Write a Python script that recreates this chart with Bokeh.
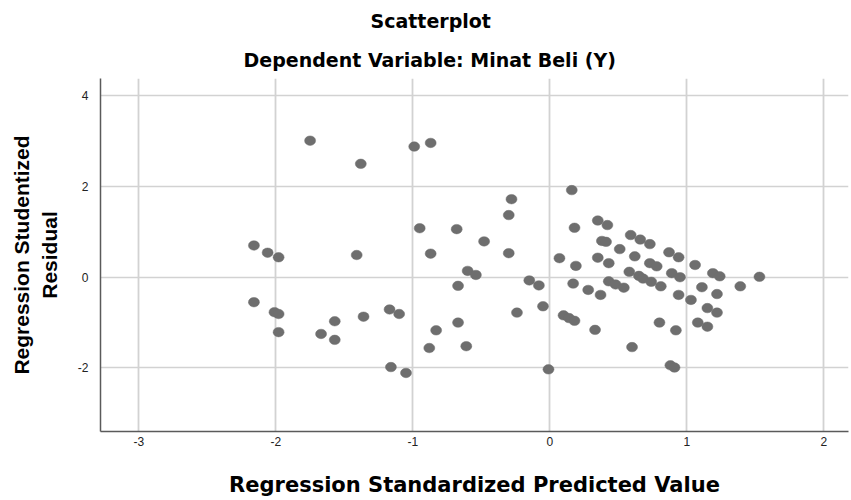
from bokeh.plotting import figure
from bokeh.models import Range1d, FixedTicker, ColumnDataSource, Title
from bokeh.embed import file_html
from bokeh.resources import INLINE

# Regression Standardized Predicted Value
pred = [-1.75, -1.38, -0.99, -0.87, -0.95, -0.68, -2.16, -2.06, -1.98, -1.41,
        -0.87, -0.60, -0.54, -0.67, -0.48, -0.28, -0.30, -0.30, -2.16, -2.01,
        -1.98, -1.98, -1.67, -1.57, -1.57, -1.36, -1.17, -1.10, -1.16, -1.05,
        -0.88, -0.83, -0.67, -0.61, -0.15, -0.08, -0.05, -0.24, -0.01,
        0.16, 0.18, 0.35, 0.42, 0.38, 0.41, 0.51, 0.59, 0.66, 0.73,
        0.62, 0.07, 0.19, 0.35, 0.43, 0.58, 0.65, 0.73, 0.78, 0.87,
        0.94, 1.06, 0.89, 0.95, 1.19, 1.24, 1.53, 0.68, 0.74, 0.81,
        1.11, 1.39, 1.22, 0.94, 1.03, 0.17, 0.28, 0.37, 0.43, 0.48,
        0.54, 1.15, 1.22, 1.08, 1.15, 0.10, 0.14, 0.18, 0.33, 0.80,
        0.92, 0.60, 0.88, 0.91]

# Regression Studentized Residual
resid = [3.01, 2.50, 2.88, 2.96, 1.08, 1.06, 0.70, 0.54, 0.44, 0.49,
         0.52, 0.14, 0.05, -0.19, 0.79, 1.72, 1.37, 0.53, -0.55, -0.77,
         -0.81, -1.21, -1.25, -0.97, -1.38, -0.87, -0.71, -0.81, -1.98, -2.11,
         -1.56, -1.17, -1.00, -1.52, -0.07, -0.18, -0.64, -0.78, -2.03,
         1.92, 1.09, 1.25, 1.15, 0.80, 0.78, 0.62, 0.93, 0.83, 0.73,
         0.46, 0.42, 0.25, 0.43, 0.31, 0.12, 0.03, 0.31, 0.24, 0.55,
         0.44, 0.27, 0.09, 0.00, 0.09, 0.02, 0.01, -0.03, -0.10, -0.20,
         -0.22, -0.20, -0.37, -0.39, -0.50, -0.14, -0.28, -0.39, -0.09, -0.16,
         -0.23, -0.68, -0.78, -1.00, -1.09, -0.84, -0.90, -0.96, -1.16, -1.00,
         -1.17, -1.54, -1.94, -1.99]

x_ticks = [-3, -2, -1, 0, 1, 2]
y_ticks = [-2, 0, 2, 4]

title_main = "Scatterplot"
title_sub = "Dependent Variable: Minat Beli (Y)"
x_label = "Regression Standardized Predicted Value"
y_label = "Regression Studentized\nResidual"

FONT = "Liberation Sans"
WIDE = "DejaVu Sans"

p = figure(width=851, height=500, output_backend="svg", toolbar_location=None,
           x_range=Range1d(-3.28, 2.18), y_range=Range1d(-3.40, 4.38),
           min_border_left=100, min_border_right=3, min_border_top=78,
           min_border_bottom=69, title=None)

p.outline_line_color = None
p.background_fill_color = "white"
p.border_fill_color = "white"

sub = Title(text=title_sub, align="left", offset=143, standoff=16,
            text_font=WIDE, text_font_size="19px", text_font_style="bold",
            text_color="black")
main = Title(text=title_main, align="left", offset=270, standoff=14,
             text_font=WIDE, text_font_size="19px", text_font_style="bold",
             text_color="black")
p.add_layout(sub, "above")
p.add_layout(main, "above")

p.xgrid.ticker = FixedTicker(ticks=x_ticks)
p.ygrid.ticker = FixedTicker(ticks=y_ticks)
p.xgrid.grid_line_color = "#d2d2d2"
p.ygrid.grid_line_color = "#d2d2d2"
p.xgrid.grid_line_width = 1.8
p.ygrid.grid_line_width = 1.5

for ax, ticks in ((p.xaxis, x_ticks), (p.yaxis, y_ticks)):
    ax.ticker = FixedTicker(ticks=ticks)
    ax.major_tick_line_color = None
    ax.minor_tick_line_color = None
    ax.major_tick_out = 0
    ax.major_tick_in = 0
    ax.minor_tick_out = 0
    ax.axis_line_color = "#5a5a5a"
    ax.axis_line_width = 1.5
    ax.major_label_text_font = FONT
    ax.major_label_text_font_size = "12px"
    ax.major_label_text_color = "#222222"
    ax.axis_label_text_font_style = "bold"
    ax.axis_label_text_color = "black"

p.xaxis.axis_label = x_label
p.xaxis.axis_label_text_font = WIDE
p.xaxis.axis_label_text_font_size = "21px"
p.yaxis.axis_label = y_label
p.yaxis.axis_label_text_font = FONT
p.yaxis.axis_label_text_font_size = "21px"

p.xaxis.major_label_standoff = 5
p.xaxis.axis_label_standoff = 24
p.yaxis.major_label_standoff = 12
p.yaxis.axis_label_standoff = 14
p.xaxis.major_label_overrides = {t: str(t) for t in x_ticks}
p.yaxis.major_label_overrides = {t: str(t) for t in y_ticks}

src = ColumnDataSource(dict(x=pred, y=resid))
p.ellipse(x="x", y="y", width=11, height=9.5, width_units="screen",
          height_units="screen", source=src, fill_color="#6e6e6e",
          line_color="#6e6e6e", line_width=0.5)

open("out.html", "w").write(file_html(p, INLINE))
